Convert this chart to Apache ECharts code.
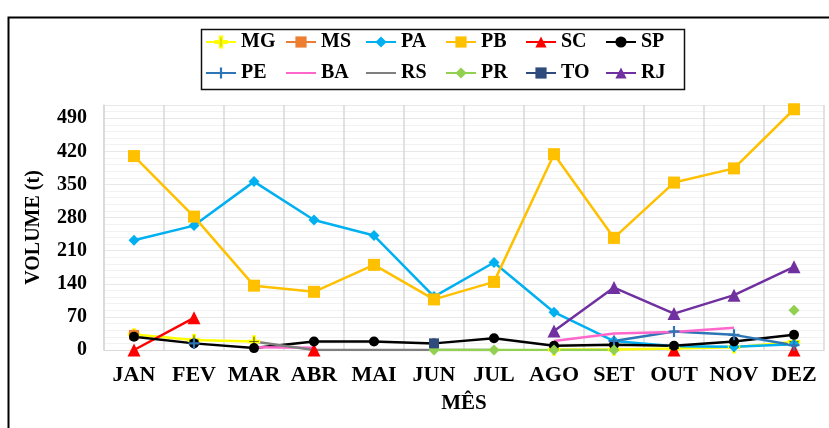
<!DOCTYPE html>
<html>
<head>
<meta charset="utf-8">
<script src="https://cdn.jsdelivr.net/npm/echarts@6/dist/echarts.min.js"></script>
<style>
  html, body { margin: 0; padding: 0; background: #fff; }
  #chart { width: 829px; height: 428px; }
</style>
</head>
<body>
<div id="chart"></div>
<script>
// Months on the category axis
const months = ['JAN', 'FEV', 'MAR', 'ABR', 'MAI', 'JUN', 'JUL', 'AGO', 'SET', 'OUT', 'NOV', 'DEZ'];

// Y-axis tick settings
const yMin = 0;
const yMax = 518;
const yStep = 70;

// Monthly volume (t) by state; null = no record that month
const MG = [33, 21, 18, null, null, null, null, 1, 1, 3, 6, 17];
const MS = [32, null, null, null, null, null, null, null, null, null, null, null];
const PA = [232, 263, 356, 275, 242, 113, 185, 80, 19, 8, 7, 12];
const PB = [410, 282, 136, 123, 180, 107, 144, 414, 237, 354, 384, 509];
const SC = [0, 68, null, 0, null, null, null, null, null, 0, null, 0];
const SP = [28, 14, 4, 18, 18, 14, 25, 9, 11, 9, 18, 32];
const PE = [null, 14, null, null, null, null, null, null, 19, 39, 32, 10];
const BA = [null, null, 6, 5, null, null, null, 19, 35, 38, 47, null];
const RS = [null, null, 18, 0, 0, 0, 0, null, null, null, null, null];
const PR = [null, null, null, null, null, 0, 0, 0, 0, null, null, 84];
const TO = [null, null, null, null, null, 14, null, null, null, null, null, null];
const RJ = [null, null, null, null, null, null, null, 40, 132, 77, 116, 176];

// Legend order: two rows of six
const legendRows = [
  ['MG', 'MS', 'PA', 'PB', 'SC', 'SP'],
  ['PE', 'BA', 'RS', 'PR', 'TO', 'RJ']
];

const FONT = "'Liberation Serif', 'Times New Roman', serif";
const PLUS = 'path://M4,0h2v4h4v2h-4v4h-2v-4h-4v-2h4z';

function line(name, data, color, symbol, size, extra) {
  return Object.assign({
    name: name,
    type: 'line',
    data: data,
    symbol: symbol,
    symbolSize: size,
    showSymbol: symbol !== 'none',
    connectNulls: false,
    animation: false,
    lineStyle: { color: color, width: 2.5 },
    itemStyle: { color: color, borderWidth: 0 }
  }, extra || {});
}

const series = [
  line('MG', MG, '#FFFF00', PLUS, 11, { itemStyle: { color: '#000', borderColor: '#FFFF00', borderWidth: 1.5 } }),
  line('MS', MS, '#ED7D31', 'rect', 10),
  line('PA', PA, '#00B0F0', 'diamond', 11),
  line('PB', PB, '#FFC000', 'rect', 12),
  line('SC', SC, '#FF0000', 'triangle', 13),
  line('SP', SP, '#000000', 'circle', 10),
  line('PE', PE, '#2E75B6', PLUS, 11, { itemStyle: { color: '#2E75B6', borderWidth: 0 } }),
  line('BA', BA, '#FF66CC', 'none', 0),
  line('RS', RS, '#7F7F7F', 'none', 0),
  line('PR', PR, '#92D050', 'diamond', 11),
  line('TO', TO, '#2F4B7C', 'rect', 10),
  line('RJ', RJ, '#7030A0', 'triangle', 13)
];

// One legend component per entry, laid out on a fixed column grid
const legends = [];
legendRows.forEach(function (row, r) {
  row.forEach(function (name, c) {
    const plain = (name === 'BA' || name === 'RS');
    legends.push({
      left: 205 + c * 80,
      top: 32 + r * 31,
      padding: 0,
      itemWidth: 30,
      itemHeight: 14,
      itemGap: 4,
      textStyle: { fontFamily: FONT, fontWeight: 'bold', fontSize: 20, color: '#000' },
      data: [plain ? { name: name, itemStyle: { opacity: 0 } } : name]
    });
  });
});

const option = {
  backgroundColor: '#fff',
  animation: false,
  graphic: [
    { type: 'rect', left: 6, top: 15, shape: { width: 900, height: 500 },
      style: { fill: 'none', stroke: '#000', lineWidth: 2 }, silent: true },
    { type: 'rect', left: 199, top: 27, shape: { width: 483, height: 60 },
      style: { fill: 'none', stroke: '#111', lineWidth: 1.5 }, silent: true }
  ],
  legend: legends,
  grid: { left: 104, right: 5, top: 105, bottom: 78, containLabel: false },
  xAxis: {
    type: 'category',
    data: months,
    boundaryGap: true,
    name: 'MÊS',
    nameLocation: 'middle',
    nameGap: 43,
    nameTextStyle: { fontFamily: FONT, fontWeight: 'bold', fontSize: 21, color: '#000' },
    axisLine: { lineStyle: { color: '#d9d9d9', width: 1 } },
    axisTick: { show: false },
    axisLabel: { fontFamily: FONT, fontWeight: 'bold', fontSize: 22, color: '#000', margin: 14, interval: 0 },
    splitLine: { show: true, lineStyle: { color: '#d9d9d9', width: 1.5 } }
  },
  yAxis: {
    type: 'value',
    min: yMin,
    max: yMax,
    interval: yStep,
    name: 'VOLUME (t)',
    nameLocation: 'middle',
    nameGap: 60,
    nameRotate: 90,
    nameTextStyle: { fontFamily: FONT, fontWeight: 'bold', fontSize: 20, color: '#000' },
    axisLine: { show: true, lineStyle: { color: '#d9d9d9', width: 1.5 } },
    axisTick: { show: false },
    axisLabel: { fontFamily: FONT, fontWeight: 'bold', fontSize: 20, color: '#000', margin: 17,
      showMaxLabel: false,
      formatter: function (v) { return v % yStep === 0 ? String(v) : ''; } },
    splitLine: { show: true, lineStyle: { color: '#e8e8e8', width: 1 } },
    minorTick: { show: false, splitNumber: 5 },
    minorSplitLine: { show: true, lineStyle: { color: '#f2f2f2', width: 1 } }
  },
  series: series
};

const chart = echarts.init(document.getElementById('chart'), null, { renderer: 'canvas' });
chart.setOption(option);
</script>
</body>
</html>
